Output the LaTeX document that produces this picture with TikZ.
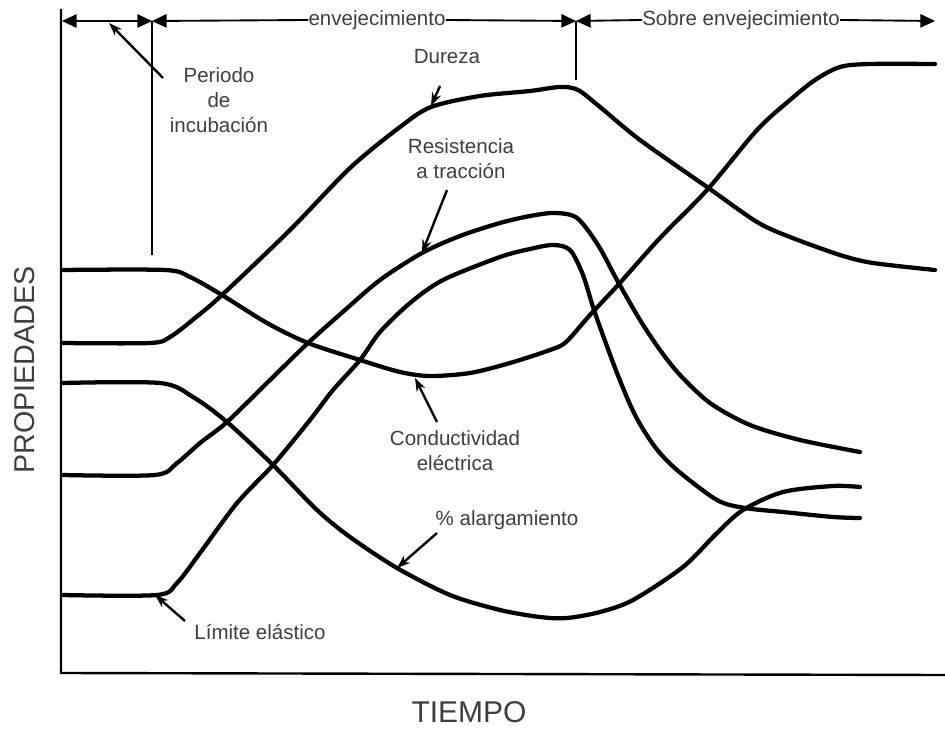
\documentclass[tikz,border=0pt]{standalone}
\usepackage{fontspec}
\setmainfont{Liberation Sans}
\usetikzlibrary{arrows.meta}
\definecolor{txt}{RGB}{62,62,62}
\begin{document}
\begin{tikzpicture}[x=0.75pt,y=-0.75pt,
  curve/.style={line width=3.2pt,line cap=round,line join=round},
  lbl/.style={font=\fontsize{15.4}{18.8}\selectfont,text=txt,inner sep=0pt,align=center},
  big/.style={font=\fontsize{22.5}{26}\selectfont,text=txt,inner sep=0pt},
  pointer/.style={line width=1.8pt,-{Stealth[length=10pt,width=7pt]}},
  axisline/.style={line width=1.8pt},
  barline/.style={line width=1.4pt},
  bartip/.tip={Triangle[length=11pt,width=10pt]},
  marker/.style={line width=1.4pt}]
\useasboundingbox (0,0) rectangle (945,730);
% axes
\coordinate (ytop) at (61,9);
\coordinate (orig) at (61,673);
\coordinate (xend) at (945,675);
\draw[axisline] (ytop) -- (orig) -- (xend);
% top bar
\coordinate (a0) at (62,21);
\coordinate (a1) at (152,21);
\coordinate (a2) at (576,21);
\coordinate (a3) at (935,21);
\coordinate (a1b) at (152,255);
\coordinate (a2b) at (576,80);
\node[lbl] (env) at (377,20) {envejecimiento};
\node[lbl] (sobre) at (741,20) {Sobre envejecimiento};
\draw[barline,bartip-bartip] (a0) -- (a1);
\draw[barline,bartip-] (a1) -- (env.west);
\draw[barline,-bartip] (env.east) -- (a2);
\draw[barline,bartip-] (a2) -- (sobre.west);
\draw[barline,-bartip] (sobre.east) -- (a3);
\draw[marker] (a1) -- (a1b);
\draw[marker] (a2) -- (a2b);
% curves
\draw[curve] plot[smooth,tension=0.5] coordinates {(62,343) (150,343) (170,337) (195,318) (222,295) (290,230) (350,168) (400,127) (431,107) (480,96) (530,91) (560,87) (578,90) (600,107) (640,140) (707,187) (757,222) (790,237) (840,255) (873,263) (935,270)};
\draw[curve] plot[smooth,tension=0.5] coordinates {(62,270) (165,270) (190,277) (222,295) (267,323) (308,343) (360,360) (400,372) (430,376) (470,373) (510,363) (550,350) (566,342) (590,315) (618,285) (660,238) (707,190) (757,130) (790,100) (815,80) (840,67) (870,64) (935,64)};
\draw[curve] plot[smooth,tension=0.5] coordinates {(62,475) (155,475) (177,463) (200,443) (227,422) (270,380) (308,343) (345,310) (380,280) (422,253) (460,236) (500,223) (530,216) (555,213) (577,218) (598,245) (617,280) (640,320) (660,350) (680,375) (710,403) (750,425) (800,440) (860,452)};
\draw[curve] plot[smooth,tension=0.5] coordinates {(62,595) (157,595) (177,583) (200,553) (237,503) (273,465) (310,420) (333,390) (360,360) (380,332) (410,303) (443,280) (500,257) (530,249) (553,245) (570,250) (583,275) (595,313) (617,373) (635,415) (655,447) (677,470) (717,500) (745,508) (783,512) (833,517) (860,518)};
\draw[curve] plot[smooth,tension=0.5] coordinates {(62,383) (160,383) (193,397) (227,422) (273,465) (317,510) (350,537) (397,568) (450,595) (500,610) (540,617) (567,618) (600,612) (633,600) (683,567) (717,533) (743,510) (783,492) (833,486) (860,487)};
% labels
\node[lbl] (inc) at (219,100) {Periodo\\de\\incubación};
\node[lbl] (dur) at (447,57) {Dureza};
\node[lbl] (res) at (461,159) {Resistencia\\a tracción};
\node[lbl] (con) at (455,451) {Conductividad\\eléctrica};
\node[lbl] (alar) at (507,520) {\% alargamiento};
\node[lbl] (lim) at (260,632) {Límite elástico};
\node[big] (tiempo) at (469,712) {TIEMPO};
\node[big,font=\fontsize{21.5}{25}\selectfont,rotate=90] (prop) at (25,370) {PROPIEDADES};
% pointers
\coordinate (incS) at (163,78);  \coordinate (incT) at (109,23);
\coordinate (durS) at (440,86);  \coordinate (durT) at (431,106);
\coordinate (resS) at (447,190); \coordinate (resT) at (422,253);
\coordinate (conS) at (437,422); \coordinate (conT) at (415,378);
\coordinate (alaS) at (437,533); \coordinate (alaT) at (397,568);
\coordinate (limS) at (185,621); \coordinate (limT) at (155,595);
\draw[pointer] (incS) -- (incT);
\draw[pointer] (durS) -- (durT);
\draw[pointer] (resS) -- (resT);
\draw[pointer] (conS) -- (conT);
\draw[pointer] (alaS) -- (alaT);
\draw[pointer] (limS) -- (limT);
\end{tikzpicture}
\end{document}
